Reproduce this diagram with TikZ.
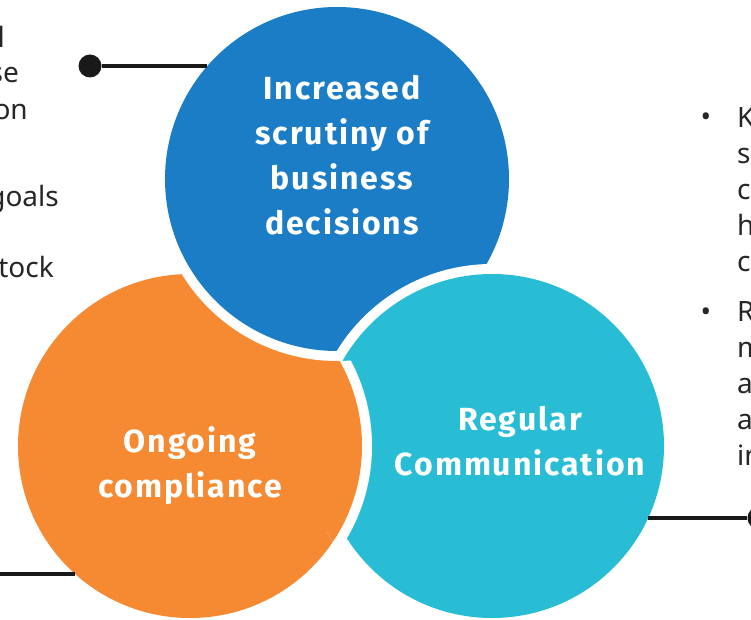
\documentclass[tikz,border=0pt]{standalone}
\usepackage{fontspec}
\setmainfont{Noto Sans}
\newfontfamily\bubblefont[LetterSpace=6]{Fira Sans}
\usepackage{xcolor}
\usetikzlibrary{positioning, calc}

\definecolor{scrutinyblue}{HTML}{1B7DC6}
\definecolor{complorange}{HTML}{F58A32}
\definecolor{commcyan}{HTML}{29BDD5}

\begin{document}
\begin{tikzpicture}[
        x=1pt, y=-1pt,
        bubble/.style={circle, inner sep=0pt, outer sep=0pt, minimum size=344pt, preaction={draw=white, line width=20pt}},
        bubtext/.style={text=white, align=center, inner sep=0pt, font=\bubblefont\bfseries\fontsize{32}{45}\selectfont},
        side/.style={inner sep=0pt, text=black!85, font=\fontsize{28}{36}\selectfont},
        link/.style={draw=black!90, line width=4.5pt},
        dot/.style={circle, fill=black!90, inner sep=0pt, minimum size=23pt}
    ]
        \useasboundingbox (0,0) rectangle (751,620);
        % the three circles, each one over the next
        \node[bubble, fill=complorange]  (compliance) at (190,446) {};
        \node[bubble, fill=scrutinyblue] (scrutiny)   at (337,179) {};
        \node[bubble, fill=commcyan]     (comm)       at (492,446) {};
        \begin{scope}[even odd rule]
            \clip (comm.center) circle[radius=186];
            \clip (0,0) rectangle (751,620) (scrutiny.center) circle[radius=182];
            \node[bubble, fill=complorange] at (compliance.center) {};
        \end{scope}
        \node[bubtext] (scrutinytxt)   at (342,155) {Increased\\scrutiny of\\business\\decisions};
        \node[bubtext] (compliancetxt) at (190,466) {Ongoing\\compliance};
        \node[bubtext] (commtxt)       at (520,441) {Regular\\Communication};
        % connectors
        \node[dot] (topdot)   at (90,66)  {};
        \node[dot] (rightdot) at (759,518) {};
        \coordinate (leftend) at (-5,574);
        \draw[link] (topdot) -- (topdot -| scrutiny.139);
        \draw[link] (rightdot) -- (rightdot -| comm.-25);
        \draw[link] (leftend) -- (leftend -| compliance.228);
        % side texts
        \node[side, anchor=base east] (lfrag1) at (5,48)   {l};
        \node[side, anchor=base east] (lfrag2) at (19,83)  {se};
        \node[side, anchor=base east] (lfrag3) at (28,120) {on};
        \node[side, anchor=base east] (lfrag4) at (59,207) {goals};
        \node[side, anchor=base east] (lfrag5) at (54,277) {tock};
        \node[side, anchor=base] (bullet1) at (706,127) {•};
        \node[side, anchor=base] (bullet2) at (706,321) {•};
        \node[side, anchor=north west, align=left] (rpara1) at (737,107) {K\\s\\c\\h\\c};
        \node[side, anchor=north west, align=left] (rpara2) at (737,301) {R\\m\\a\\a\\in};
    \end{tikzpicture}
\end{document}
